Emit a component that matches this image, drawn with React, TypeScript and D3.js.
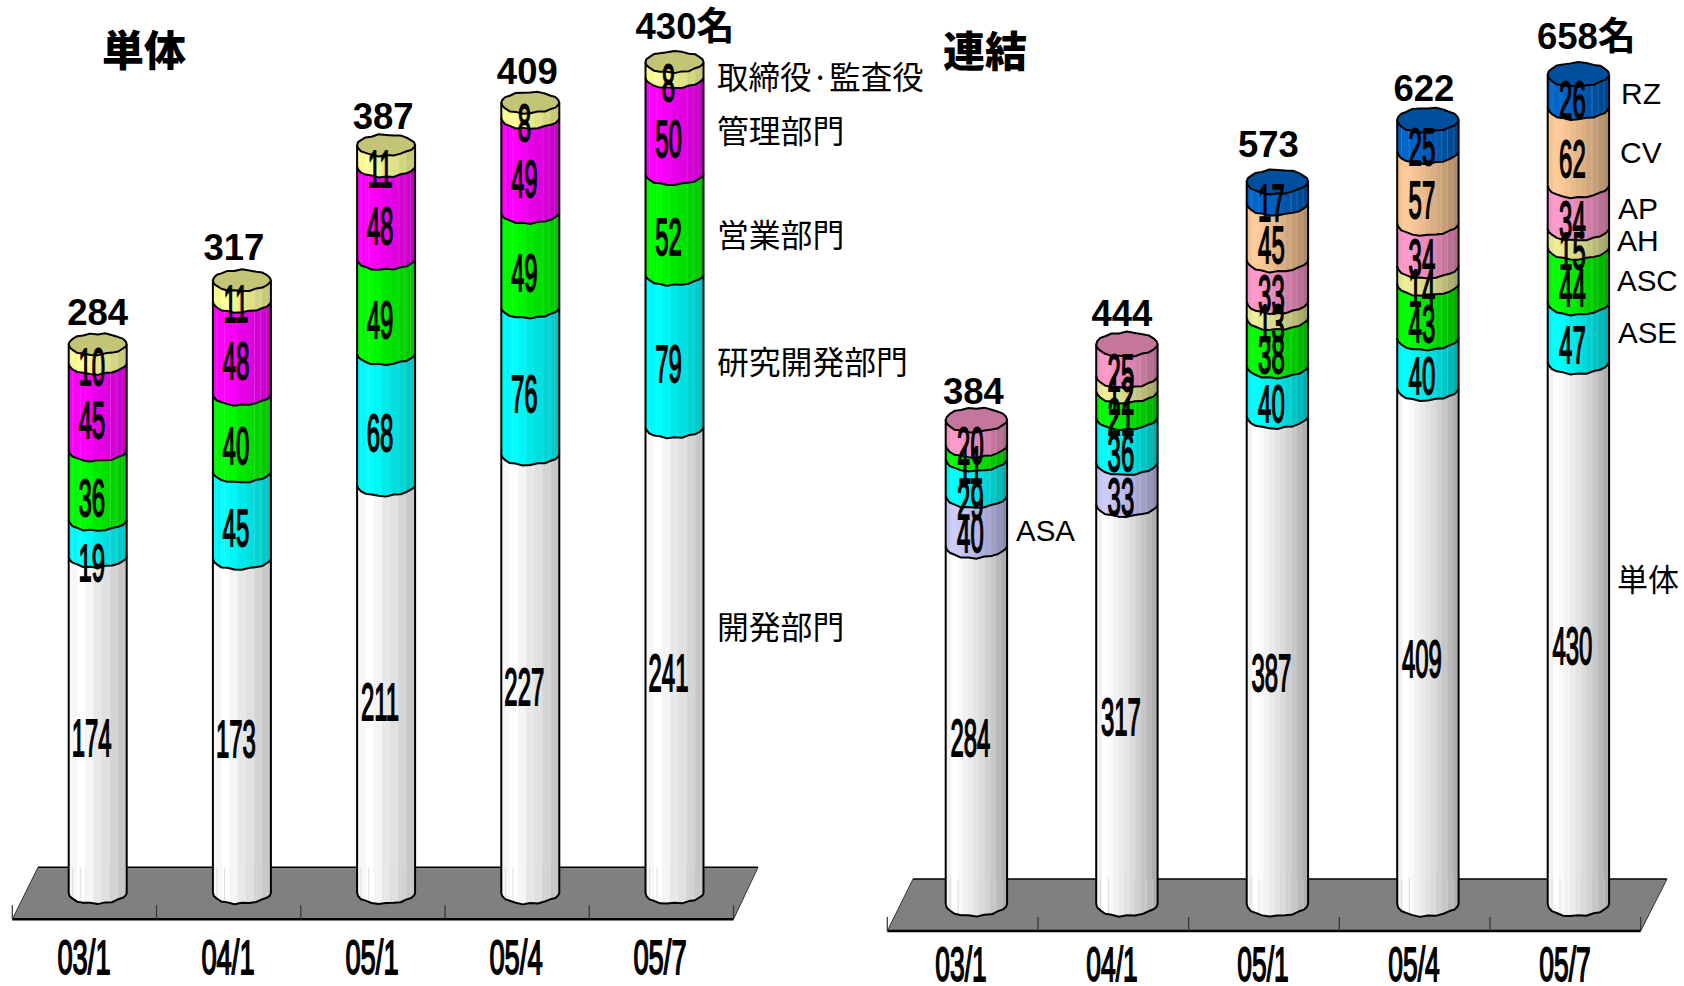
import React from "react";
import * as d3 from "d3";

// ---------- data ----------
const dates = ["03/1", "04/1", "05/1", "05/4", "05/7"];

const soloKeys = ["開発部門", "研究開発部門", "営業部門", "管理部門", "取締役·監査役"];
const soloDev = [174, 173, 211, 227, 241];
const soloRnd = [19, 45, 68, 76, 79];
const soloSales = [36, 40, 49, 49, 52];
const soloAdmin = [45, 48, 48, 49, 50];
const soloBoard = [10, 11, 11, 8, 8];
const soloTotals = ["284", "317", "387", "409", "430名"];

const groupKeys = ["単体", "ASA", "ASE", "ASC", "AH", "AP", "CV", "RZ"];
const groupSolo = [284, 317, 387, 409, 430];
const groupAsa = [40, 33, 0, 0, 0];
const groupAse = [29, 36, 40, 40, 47];
const groupAsc = [11, 21, 38, 43, 44];
const groupAh = [0, 12, 13, 14, 15];
const groupAp = [20, 25, 33, 34, 34];
const groupCv = [0, 0, 45, 57, 62];
const groupRz = [0, 0, 17, 25, 26];
const groupTotals = ["384", "444", "573", "622", "658名"];

// ---------- styles & layout ----------
const soloColors = ["#ffffff", "#00ffff", "#00ff00", "#ff00ff", "#ffff99"];
const groupColors = ["#ffffff", "#ccccff", "#00ffff", "#00ff00", "#eeee99", "#ff99cc", "#ffcc99", "#0066cc"];
const LATIN = "'Liberation Sans', Arial, sans-serif";
const CJK = "'Noto Sans CJK JP', sans-serif";

const soloBands = [0.97, 1, 0.96, 0.91, 0.88, 0.83, 0.78];
const groupBands = [0.95, 1, 0.98, 0.95, 0.92, 0.89, 0.86, 0.82, 0.78, 0.73, 0.68];
const wobble = [0, 0.9, -0.5, 0.7, 0.1, -0.8, 0.6, -0.4, 0.8, -0.7, 0.3, 0.5, -0.6];

type Panel = {
  id: string;
  series: number[][];
  keys: string[];
  colors: string[];
  totals: string[];
  bands: number[];
  cx0: number; step: number; rx: number; ry: number;
  y0: number; yTopPx: number; max: number;
  labelDx: number; labelDy: number;
  totalDx: number[]; totalGap: number[];
  floor: { bl: number; tl: number; br: number; tr: number; top: number; bottom: number };
  xLabelX0: number; xLabelStep: number; xLabelY: number; xLabelScale: number;
  nudges: Record<string, number>;
};

const panels: Panel[] = [
  {
    id: "solo",
    series: [soloDev, soloRnd, soloSales, soloAdmin, soloBoard],
    keys: soloKeys, colors: soloColors, totals: soloTotals, bands: soloBands,
    cx0: 97.7, step: 144.2, rx: 29, ry: 10.5,
    y0: 893, yTopPx: 62, max: 430,
    labelDx: -6, labelDy: 2,
    totalDx: [0, -8, -3, -3, 2.5], totalGap: [8.5, 9.5, 5.5, 8, 13],
    floor: { bl: 12.3, tl: 38, br: 733.5, tr: 758, top: 867.3, bottom: 919.3 },
    xLabelX0: 84, xLabelStep: 144, xLabelY: 974, xLabelScale: 0.57,
    nudges: { "0-1": 12 },
  },
  {
    id: "group",
    series: [groupSolo, groupAsa, groupAse, groupAsc, groupAh, groupAp, groupCv, groupRz],
    keys: groupKeys, colors: groupColors, totals: groupTotals, bands: groupBands,
    cx0: 976.4, step: 150.5, rx: 30.7, ry: 12,
    y0: 904, yTopPx: 74.5, max: 658,
    labelDx: -6, labelDy: 0.5,
    totalDx: [-3, -5, -9, -4, 0], totalGap: [3.5, 6.5, 13, 7, 14],
    floor: { bl: 887.3, tl: 913, br: 1640.7, tr: 1667, top: 879, bottom: 931 },
    xLabelX0: 961, xLabelStep: 151, xLabelY: 981, xLabelScale: 0.55,
    nudges: { "0-2": 11, "2-7": -2, "3-7": -2, "4-7": -4 },
  },
];

const sideNotes = [
  { t: "取締役·監査役", x: 717, y: 75, f: CJK, s: 31.5 },
  { t: "管理部門", x: 717, y: 129, f: CJK, s: 31.8 },
  { t: "営業部門", x: 717, y: 233, f: CJK, s: 31.8 },
  { t: "研究開発部門", x: 717, y: 360, f: CJK, s: 31.8 },
  { t: "開発部門", x: 717, y: 625, f: CJK, s: 31.8 },
  { t: "ASA", x: 1016, y: 530.5, f: LATIN, s: 29.5 },
  { t: "RZ", x: 1621, y: 93, f: LATIN, s: 30 },
  { t: "CV", x: 1620, y: 152, f: LATIN, s: 30 },
  { t: "AP", x: 1618, y: 208, f: LATIN, s: 30 },
  { t: "AH", x: 1617, y: 240, f: LATIN, s: 30 },
  { t: "ASC", x: 1617, y: 280, f: LATIN, s: 29.5 },
  { t: "ASE", x: 1618, y: 332, f: LATIN, s: 29.5 },
  { t: "単体", x: 1617, y: 577, f: CJK, s: 31 },
];

const shade = (color: string, k: number) => {
  const c = d3.rgb(color);
  return d3.rgb(c.r * k, c.g * k, c.b * k).formatHex();
};

const poly = d3.line<[number, number]>().curve(d3.curveLinear);

function arc(cx: number, cy: number, rx: number, ry: number, seed: number, front: boolean) {
  const n = 12;
  const pts: [number, number][] = d3.range(n + 1).map((k) => {
    const a = Math.PI * (front ? 1 - k / n : k / n + 1);
    const s = Math.sin(a);
    const c = Math.cos(a);
    const w = wobble[(k + seed) % wobble.length] * Math.abs(s);
    return [cx + rx * c, cy + ry * s + w - (front ? ry * 0.14 * c * Math.abs(s) : 0)];
  });
  return pts;
}

function Cylinder({ p, col, x, y }: { p: Panel; col: number; x: number; y: d3.ScaleLinear<number, number> }) {
  const rows = d3.range(dates.length).map((i) =>
    Object.fromEntries(p.keys.map((k, j) => [k, p.series[j][i]]))
  );
  const stacked = d3.stack<any>().keys(p.keys)(rows);
  const cx = x;
  const segs = stacked.map((s, j) => ({ j, y0: s[col][0], y1: s[col][1] })).filter((s) => s.y1 > s.y0);
  const n = p.bands.length;
  const seams = [0.07, 0.2, 0.72, 0.82, 0.92];
  const last = segs[segs.length - 1];
  const topFrontArc = arc(cx, y(last.y1), p.rx, p.ry, col * 2 + 5, true);
  const topBackArc = arc(cx, y(last.y1), p.rx, p.ry, col + 2, false).slice(1, -1).reverse();
  return (
    <g>
      {segs.map((s, idx) => {
        const bottom = arc(cx, y(s.y0), p.rx, p.ry, col * 3 + idx * 2, true);
        const topFront = idx === segs.length - 1
          ? topFrontArc
          : arc(cx, y(s.y1), p.rx, p.ry, col * 3 + (idx + 1) * 2, true);
        const outline = [...bottom, ...[...topFront].reverse()] as [number, number][];
        const clip = `${p.id}-${col}-${s.j}`;
        const yMin = y(s.y1) - p.ry;
        const h = y(s.y0) + 2 * p.ry - yMin;
        const open = [topFront[0], ...bottom, topFront[topFront.length - 1]] as [number, number][];
        return (
          <g key={s.j}>
            <clipPath id={clip}><path d={poly(outline)! + "Z"} /></clipPath>
            <g clipPath={`url(#${clip})`}>
              {p.bands.map((k, b) => (
                <rect key={b} x={cx - p.rx + (b * 2 * p.rx) / n} width={(2 * p.rx) / n + 0.5} y={yMin} height={h}
                  fill={shade(p.colors[s.j], k)} />
              ))}
              {s.j > 0 && seams.map((t) => (
                <line key={t} x1={cx - p.rx + t * 2 * p.rx} x2={cx - p.rx + t * 2 * p.rx} y1={yMin} y2={yMin + h}
                  stroke="#ffffff" strokeOpacity={0.2} strokeWidth={0.7} />
              ))}
              {s.j === 0 && seams.map((t) => (
                <line key={t} x1={cx - p.rx + t * 2 * p.rx} x2={cx - p.rx + t * 2 * p.rx} y1={p.floor.top} y2={yMin + h}
                  stroke="#d0d0d0" strokeWidth={0.7} />
              ))}
            </g>
            <path d={poly(open)!} fill="none" stroke="#000" strokeWidth={2} strokeLinejoin="round" />
          </g>
        );
      })}
      <path
        d={poly([...topFrontArc, ...topBackArc] as [number, number][])! + "Z"}
        fill={shade(p.colors[last.j], 0.77)} stroke="#000" strokeWidth={2} strokeLinejoin="round"
      />
    </g>
  );
}

function SegLabels({ p, col, x, y }: { p: Panel; col: number; x: number; y: d3.ScaleLinear<number, number> }) {
  let acc = 0;
  const fs = 52;
  const out: React.ReactNode[] = [];
  p.series.forEach((arr, j) => {
    const v = arr[col];
    if (!v) return;
    const mid = acc + v / 2;
    acc += v;
    const ny = p.nudges[`${col}-${j}`] ?? 0;
    const cy = y(mid) + p.ry + p.labelDy + ny;
    out.push(
      <text key={j} transform={`translate(${x + p.labelDx},${cy + 0.358 * fs}) scale(0.46,1)`}
        textAnchor="middle" fontFamily={LATIN} fontSize={fs} fill="#000" stroke="#000" strokeWidth={1.8}>{v}</text>
    );
  });
  return <g>{out}</g>;
}

function PanelView({ p }: { p: Panel }) {
  const x = d3.scalePoint<string>().domain(dates).range([p.cx0, p.cx0 + p.step * 4]);
  const y = d3.scaleLinear().domain([0, p.max]).range([p.y0, p.yTopPx]);
  const f = p.floor;
  const ticks = d3.range(6).map((i) => f.bl + ((f.br - f.bl) * i) / 5);
  const sums = dates.map((_, i) => d3.sum(p.series, (s) => s[i]));
  return (
    <g>
      <path d={`M${f.bl},${f.bottom}L${f.tl},${f.top}L${f.tr},${f.top}L${f.br},${f.bottom}Z`} fill="#808080" />
      <path d={`M${f.bl},${f.bottom}L${f.br},${f.bottom}`} stroke="#000" strokeWidth={2.4} />
      <path d={`M${f.tl},${f.top}L${f.tr},${f.top}`} stroke="#000" strokeWidth={1.6} />
      <path d={`M${f.bl},${f.bottom}L${f.tl},${f.top}`} stroke="#333" strokeWidth={1} />
      <path d={`M${f.br},${f.bottom}L${f.tr},${f.top}`} stroke="#333" strokeWidth={1} />
      {ticks.map((t) => (
        <line key={t} x1={t} x2={t} y1={f.bottom - 14} y2={f.bottom} stroke="#333" strokeWidth={1.2} />
      ))}
      {dates.map((d, i) => <Cylinder key={d} p={p} col={i} x={x(d)!} y={y} />)}
      {dates.map((d, i) => <SegLabels key={d} p={p} col={i} x={x(d)!} y={y} />)}
      {dates.map((d, i) => {
        const plain = p.totals[i].length === 3;
        const num = p.totals[i].slice(0, 3);
        const tail = p.totals[i].slice(3);
        return (
          <text key={d} x={x(d)! + p.totalDx[i] + (plain ? 0 : 8)} y={y(sums[i]) - p.ry - p.totalGap[i]}
            textAnchor="middle" fontFamily={LATIN} fontWeight={700} fontSize={36.5} fill="#000">
            {num}{tail && <tspan fontFamily={CJK} fontSize={38} fontWeight={700}>{tail}</tspan>}
          </text>
        );
      })}
      {dates.map((d, i) => (
        <text key={d} transform={`translate(${p.xLabelX0 + p.xLabelStep * i},${p.xLabelY}) scale(${p.xLabelScale},1)`}
          textAnchor="middle" fontFamily={LATIN} fontSize={48} fill="#000" stroke="#000" strokeWidth={1.8}>{d}</text>
      ))}
    </g>
  );
}

export default function App() {
  return (
    <svg width={1684} height={986} viewBox="0 0 1684 986"
      style={{ position: "absolute", left: 0, top: 0, background: "#fff" }}>
      {panels.map((p) => <PanelView key={p.id} p={p} />)}
      <text x={102} y={66} fontFamily={CJK} fontWeight={900} fontSize={42} fill="#000">単体</text>
      <text x={943} y={67} fontFamily={CJK} fontWeight={900} fontSize={42} fill="#000">連結</text>
      {sideNotes.map((n) => (
        <text key={n.t + n.x} x={n.x} y={n.y} dominantBaseline="central" fontFamily={n.f} fontSize={n.s} fill="#000">{n.t}</text>
      ))}
    </svg>
  );
}
